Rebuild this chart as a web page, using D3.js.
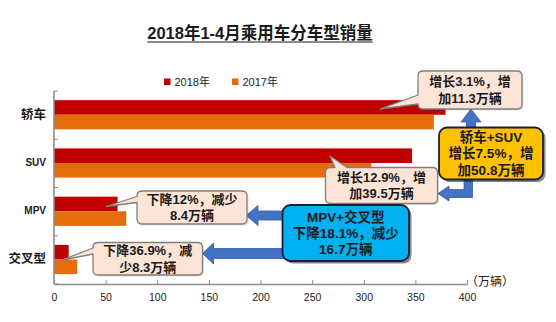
<!DOCTYPE html>
<html><head><meta charset="utf-8">
<script src="https://cdn.jsdelivr.net/npm/d3@7/dist/d3.min.js"></script>
<style>
html,body{margin:0;padding:0;background:#fff;}
svg{display:block;font-family:"Liberation Sans","Noto Sans CJK SC",sans-serif;}
</style></head>
<body>
<svg id="c" width="556" height="322"></svg>
<script>
const categories = ["轿车", "SUV", "MPV", "交叉型"];
const seriesNames = ["2018年", "2017年"];
const sales2018 = [379.2, 346.8, 61.6, 14.2];
const sales2017 = [367.9, 307.3, 70.0, 22.5];
const xTickValues = [0, 50, 100, 150, 200, 250, 300, 350, 400];
const seriesColors = ["#C00000", "#E46C0A"];
const unitLabel = "（万辆）";
const titleText = "2018年1-4月乘用车分车型销量";

const svg = d3.select("#c");
const x = d3.scaleLinear().domain([0, 400]).range([54, 467]);
const y0 = d3.scaleBand().domain(categories).range([91, 284]).padding(0);
const bw = y0.bandwidth();
const y1 = d3.scaleBand().domain(seriesNames).range([bw * 0.19, bw * 0.795]).padding(0);

const values = [sales2018, sales2017];

// Title
const title = svg.append("text").attr("x", 260).attr("y", 39).attr("text-anchor", "middle")
  .attr("font-size", 16.5).attr("font-weight", "bold").attr("fill", "#1a1a1a").text(titleText);
const tb = title.node().getBBox();
svg.append("line").attr("x1", tb.x).attr("x2", tb.x + tb.width).attr("y1", 42).attr("y2", 42)
  .attr("stroke", "#1a1a1a").attr("stroke-width", 1.2);

// Legend
const legX = [164, 232];
seriesNames.forEach((s, i) => {
  svg.append("rect").attr("x", legX[i]).attr("y", 78.5).attr("width", 6.5).attr("height", 6.5).attr("fill", seriesColors[i]);
  svg.append("text").attr("x", legX[i] + 10.5).attr("y", 86).attr("font-size", 11).attr("fill", "#222").text(s);
});

// Bars
const g = svg.append("g");
categories.forEach((c, ci) => {
  seriesNames.forEach((s, si) => {
    g.append("rect")
      .attr("x", x(0)).attr("y", y0(c) + y1(s))
      .attr("width", x(values[si][ci]) - x(0)).attr("height", y1.bandwidth())
      .attr("fill", seriesColors[si]);
  });
});

// Axes
const axisColor = "#8c8c8c";
const xAxis = svg.append("g").attr("transform", `translate(0,${y0.range()[1]})`)
  .call(d3.axisBottom(x).tickValues(xTickValues).tickSize(-4).tickPadding(10).tickSizeOuter(0));
xAxis.select(".domain").attr("stroke", axisColor).attr("stroke-width", 1.6);
xAxis.selectAll(".tick line").attr("stroke", axisColor);
xAxis.selectAll(".tick text").attr("font-size", 10.5).attr("fill", "#222")
  .attr("font-family", "Liberation Sans, sans-serif");

const yAxis = svg.append("g").attr("transform", `translate(${x(0)},0)`);
yAxis.append("line").attr("x1", 0).attr("x2", 0).attr("y1", y0.range()[0]).attr("y2", y0.range()[1])
  .attr("stroke", axisColor).attr("stroke-width", 1.6);
const bounds = categories.map(c => y0(c)).concat([y0.range()[1]]);
yAxis.selectAll(".yt").data(bounds).enter().append("line")
  .attr("x1", 0).attr("x2", 4).attr("y1", d => d).attr("y2", d => d).attr("stroke", axisColor);
yAxis.selectAll(".yl").data(categories).enter().append("text")
  .attr("x", -8).attr("y", d => y0(d) + bw / 2 - 1).attr("dy", "0.35em").attr("text-anchor", "end")
  .attr("font-weight", "bold").attr("fill", "#1a1a1a")
  .attr("font-size", d => /[A-Z]/.test(d) ? 10 : 12.5)
  .attr("font-family", d => /[A-Z]/.test(d) ? "Liberation Sans Narrow, Liberation Sans, sans-serif" : "Noto Sans CJK SC, sans-serif")
  .text(d => d);

svg.append("text").attr("x", 466).attr("y", 286).attr("font-size", 12).attr("fill", "#222").text(unitLabel);

// Block arrows
const arrowFill = "#4472C4", arrowStroke = "#3559a0";
function arrow(d) {
  svg.append("path").attr("d", d).attr("fill", arrowFill).attr("stroke", arrowStroke).attr("stroke-width", 0.8);
}
arrow("M471,109 L481,122 L475.5,122 L475.5,130 L466.5,130 L466.5,122 L461,122 Z");
arrow("M438,193.5 L449,186 L449,189.5 L464,189.5 L464,176 L472.5,176 L472.5,197.5 L449,197.5 L449,201 Z");
arrow("M246,215.5 L258,205.5 L258,211 L286,211 L286,220 L258,220 L258,225.5 Z");
arrow("M202.5,253.5 L213.5,243 L213.5,248.5 L286,248.5 L286,258.5 L213.5,258.5 L213.5,264 Z");

// Callouts
function calloutPath(bx, by, w, h, r, t) {
  let p = `M${bx + r},${by}`;
  if (t.side === "top") p += ` L${t.a},${by} L${t.tx},${t.ty} L${t.b},${by}`;
  p += ` L${bx + w - r},${by} Q${bx + w},${by} ${bx + w},${by + r}`;
  p += ` L${bx + w},${by + h - r} Q${bx + w},${by + h} ${bx + w - r},${by + h}`;
  p += ` L${bx + r},${by + h} Q${bx},${by + h} ${bx},${by + h - r}`;
  if (t.side === "left") p += ` L${bx},${t.b} L${t.tx},${t.ty} L${bx},${t.a}`;
  p += ` L${bx},${by + r} Q${bx},${by} ${bx + r},${by} Z`;
  return p;
}
function lines(cx, cy, arr, fs, lh, color) {
  const t = svg.append("text").attr("text-anchor", "middle").attr("font-size", fs)
    .attr("font-weight", "bold").attr("fill", color || "#1a1a1a");
  const n = arr.length;
  arr.forEach((s, i) => {
    t.append("tspan").attr("x", cx).attr("y", cy + (i - (n - 1) / 2) * lh).attr("dy", "0.36em").text(s);
  });
}
const peach = "#FCE4D6", peachStroke = "#7f7f7f";
const callouts = [
  { box: [418, 71, 104, 38], tail: { side: "left", a: 95, b: 104, tx: 380, ty: 109 }, text: ["增长3.1%，增", "加11.3万辆"] },
  { box: [325.5, 167.5, 112, 36], tail: { side: "top", a: 335, b: 347, tx: 330, ty: 156 }, text: ["增长12.9%，增", "加39.5万辆"] },
  { box: [137, 191, 110, 33], tail: { side: "left", a: 196.5, b: 202.5, tx: 106, ty: 206.5 }, text: ["下降12%，减少", "8.4万辆"] },
  { box: [93, 242.5, 109.5, 32.5], tail: { side: "left", a: 248, b: 254, tx: 62, ty: 260 }, text: ["下降36.9%，减", "少8.3万辆"] }
];
callouts.forEach(c => {
  const [bx, by, w, h] = c.box;
  svg.append("path").attr("d", calloutPath(bx + 1.5, by + 1.5, w, h, 5, { side: "none" }))
    .attr("fill", "#000").attr("opacity", 0.12);
  svg.append("path").attr("d", calloutPath(bx, by, w, h, 5, c.tail))
    .attr("fill", peach).attr("stroke", peachStroke).attr("stroke-width", 1.3).attr("stroke-linejoin", "round");
  lines(bx + w / 2, by + h / 2, c.text, 13, 16.5);
});

// Summary boxes
function summary(bx, by, w, h, fill, text) {
  svg.append("rect").attr("x", bx + 2.5).attr("y", by + 2.5).attr("width", w).attr("height", h).attr("rx", 8)
    .attr("fill", "#222").attr("opacity", 0.55);
  svg.append("rect").attr("x", bx).attr("y", by).attr("width", w).attr("height", h).attr("rx", 8)
    .attr("fill", fill).attr("stroke", "#17213a").attr("stroke-width", 1.8);
  lines(bx + w / 2, by + h / 2, text, 13.5, 16.3);
}
summary(439, 127.5, 104, 52, "#FFC000", ["轿车+SUV", "增长7.5%，增", "加50.8万辆"]);
summary(282.5, 205, 126.5, 56, "#00B0F0", ["MPV+交叉型", "下降18.1%，减少", "16.7万辆"]);
</script>
</body></html>
